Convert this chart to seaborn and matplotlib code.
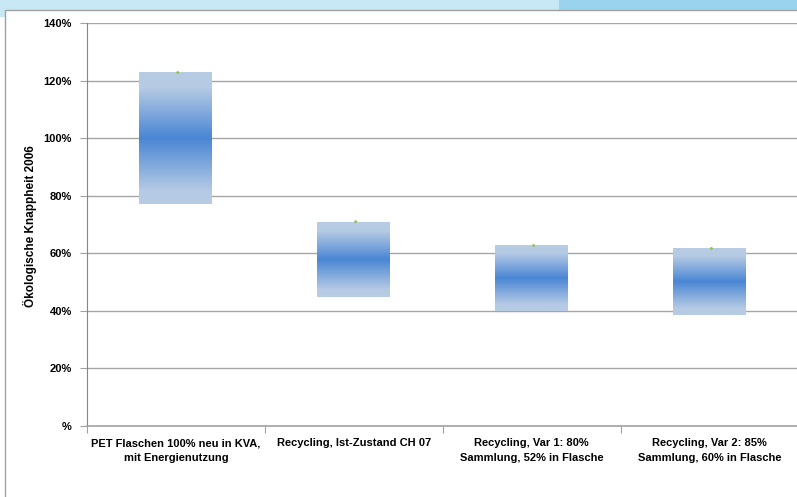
import numpy as np
import pandas as pd
import matplotlib
matplotlib.use("Agg")
import matplotlib.pyplot as plt
from matplotlib.colors import LinearSegmentedColormap
from matplotlib.patches import Rectangle
import seaborn as sns

categories = ["PET Flaschen 100% neu in KVA,\nmit Energienutzung",
              "Recycling, Ist-Zustand CH 07",
              "Recycling, Var 1: 80%\nSammlung, 52% in Flasche",
              "Recycling, Var 2: 85%\nSammlung, 60% in Flasche"]
low = [77.0, 44.8, 39.9, 38.5]
high = [122.6, 70.8, 62.5, 61.5]
yticks = [0, 20, 40, 60, 80, 100, 120, 140]
ytick_labels = ["%", "20%", "40%", "60%", "80%", "100%", "120%", "140%"]
ylabel = "Ökologische Knappheit 2006"

df = pd.DataFrame({"cat": categories, "low": low, "high": high})
df["span"] = df["high"] - df["low"]

sns.set_theme(style="white")
plt.rcParams["font.family"] = ["Liberation Sans", "DejaVu Sans"]
plt.rcParams["text.color"] = "black"
plt.rcParams["xtick.color"] = "black"
plt.rcParams["ytick.color"] = "black"
plt.rcParams["axes.labelcolor"] = "black"

fig = plt.figure(figsize=(7.97, 4.97), dpi=100)
fig.patch.set_facecolor("white")
# decorative top banner
fig.add_artist(Rectangle((0, 1 - 10/497), 1, 10/497, transform=fig.transFigure,
                         facecolor="#c8e8f5", edgecolor="none", zorder=0))
fig.add_artist(Rectangle((559/797, 1 - 10/497), 1, 10/497, transform=fig.transFigure,
                         facecolor="#9ad3ee", edgecolor="none", zorder=0))
fig.add_artist(Rectangle((0, 1 - 17/497), 5/797, 7/497, transform=fig.transFigure,
                         facecolor="#c8e8f5", edgecolor="none", zorder=0))
fig.add_artist(Rectangle((5/797, -0.1), 1, 1 - 10/497 + 0.1, transform=fig.transFigure,
                         facecolor="none", edgecolor="#a0a0a0", linewidth=1.0, zorder=1))

ax = fig.add_axes([87/797, 1 - 426/497, 1 - 87/797 + 0.002, (426 - 23)/497])

sns.barplot(data=df, x="cat", y="span", bottom=df["low"], ax=ax, width=0.41,
            color="#b8cce4", saturation=1, edgecolor="none", zorder=2)

cmap = LinearSegmentedColormap.from_list(
    "g", [(0, "#b8cce4"), (0.1, "#b5cae4"), (0.5, "#4a86d4"), (0.88, "#b5cae4"), (1, "#b8cce4")])
grad = np.linspace(0, 1, 256).reshape(-1, 1)
for p in ax.patches:
    x0, y0 = p.get_x(), p.get_y()
    w, h = p.get_width(), p.get_height()
    ax.imshow(grad, cmap=cmap, aspect="auto", extent=[x0, x0 + w, y0, y0 + h],
              origin="lower", zorder=2.5, interpolation="bilinear")
    p.set_alpha(0)

sns.scatterplot(x=np.arange(len(categories)) + 0.01, y=np.array(high) + 0.2, ax=ax,
                color="#8cc63f", s=4, marker="o", edgecolor="none", zorder=4)

ax.set_xlim(-0.5, len(categories) - 0.5)
ax.set_ylim(0, 140)
ax.set_yticks(yticks)
ax.set_yticklabels(ytick_labels, fontsize=8, fontweight="bold")
ax.yaxis.grid(True, color="#a6a6a6", linewidth=1.0)
ax.set_axisbelow(True)

ax.set_xticks(range(len(categories)))
ax.set_xticklabels(categories, fontsize=8, fontweight="bold", linespacing=1.6)
ax.tick_params(axis="x", which="major", length=0, pad=9)
ax.set_xticks(np.arange(-0.5, len(categories), 1.0), minor=True)
ax.tick_params(axis="x", which="minor", length=5, color="#a0a0a0", width=0.8, direction="out", bottom=True)
ax.tick_params(axis="y", length=5, color="#a0a0a0", width=0.8, direction="out", left=True, pad=6)

ax.set_xlabel("")
ax.set_ylabel(ylabel, fontsize=8.5, fontweight="bold")
ax.yaxis.set_label_coords((37 - 87) / 710, (426 - 226) / 403)

for s in ["top", "right"]:
    ax.spines[s].set_visible(False)
ax.spines["left"].set_color("#868686")
ax.spines["bottom"].set_color("#a6a6a6")
ax.spines["left"].set_linewidth(0.8)

fig.savefig("out.png", dpi=100)
